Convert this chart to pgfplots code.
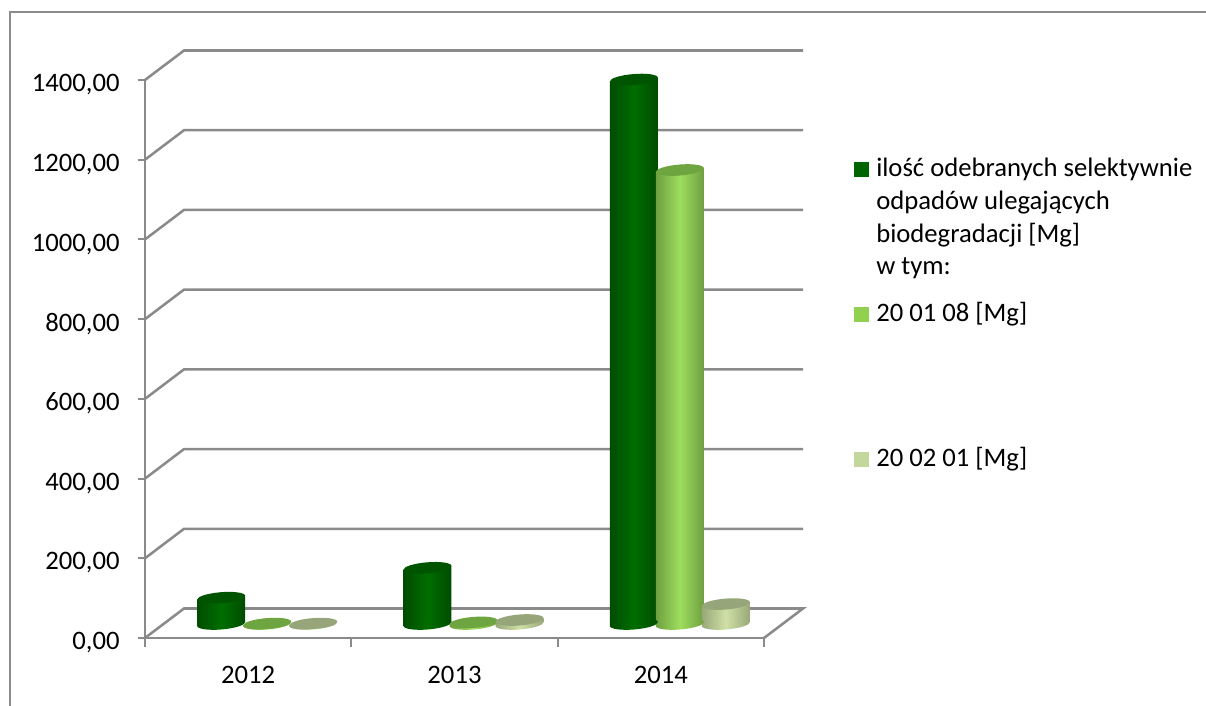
\documentclass[border=0pt]{standalone}
\usepackage{pgfplots}
\pgfplotsset{compat=1.18}
\usepackage{fontspec}
\setmainfont{Carlito}
\definecolor{gridc}{HTML}{8A8A8A}
\definecolor{frm}{HTML}{8C8C8C}
\definecolor{aE}{HTML}{004C00}\definecolor{aM}{HTML}{006E00}\definecolor{aT}{HTML}{005400}
\definecolor{bE}{HTML}{6F9F40}\definecolor{bM}{HTML}{9DDE5E}\definecolor{bT}{HTML}{6FA540}
\definecolor{cE}{HTML}{98A878}\definecolor{cM}{HTML}{CFE0A6}\definecolor{cT}{HTML}{97A67A}
\definecolor{lA}{HTML}{006400}\definecolor{lB}{HTML}{92D050}\definecolor{lC}{HTML}{C3D69B}
\pgfdeclarehorizontalshading{sha}{100bp}{color(0bp)=(aE); color(25bp)=(aE); color(50bp)=(aM); color(75bp)=(aE); color(100bp)=(aE)}
\pgfdeclarehorizontalshading{shb}{100bp}{color(0bp)=(bE); color(25bp)=(bE); color(50bp)=(bM); color(75bp)=(bE); color(100bp)=(bE)}
\pgfdeclarehorizontalshading{shc}{100bp}{color(0bp)=(cE); color(25bp)=(cE); color(50bp)=(cM); color(75bp)=(cE); color(100bp)=(cE)}
\pgfdeclareplotmark{ctop}{\pgfpathellipse{\pgfpointorigin}{\pgfpoint{18pt}{1.5pt}}{\pgfpoint{-0.4pt}{4.1pt}}\pgfusepath{fill}}
\pgfdeclareplotmark{ba}{\pgfpathellipse{\pgfpointorigin}{\pgfpoint{18pt}{1.5pt}}{\pgfpoint{-0.4pt}{4.1pt}}\pgfshadepath{sha}{0}\pgfusepath{discard}}
\pgfdeclareplotmark{bb}{\pgfpathellipse{\pgfpointorigin}{\pgfpoint{18pt}{1.5pt}}{\pgfpoint{-0.4pt}{4.1pt}}\pgfshadepath{shb}{0}\pgfusepath{discard}}
\pgfdeclareplotmark{bc}{\pgfpathellipse{\pgfpointorigin}{\pgfpoint{18pt}{1.5pt}}{\pgfpoint{-0.4pt}{4.1pt}}\pgfshadepath{shc}{0}\pgfusepath{discard}}
% \cyl{series}{x}{value}
\newcommand\cyl[3]{%
  \pgfmathsetmacro\xl{#2-0.1163}\pgfmathsetmacro\xr{#2+0.1163}%
  \pgfmathsetmacro\ybl{-5}\pgfmathsetmacro\ybr{5}%
  \pgfmathsetmacro\ytl{#3-5}\pgfmathsetmacro\ytr{#3+5}%
  \addplot[only marks,mark=b#1] coordinates {(#2,0)};
  \edef\body{\noexpand\addplot[draw=none,left color=#1E,right color=#1E,middle color=#1M] coordinates {(\xl,\ybl)(\xr,\ybr)(\xr,\ytr)(\xl,\ytl)} -- cycle;}\body
  \addplot[only marks,mark=ctop,mark options={fill=#1T,draw=none}] coordinates {(#2,#3)};
}
\begin{document}
\begin{tikzpicture}
\path[use as bounding box] (0,0) rectangle (904.5pt,529.5pt);
\begin{scope}[x=0.75pt,y=-0.75pt,yshift=529.5pt]
\draw[frm,line width=1.6pt] (10,706)--(10,12)--(1206,12);
\end{scope}
\begin{axis}[
  at={(108.75pt,51pt)},anchor=south west,
  scale only axis,width=464.25pt,height=418.5pt,
  xmin=0,xmax=3,ymin=0,ymax=1400,clip=false,
  axis x line*=bottom,axis y line*=left,
  axis line style={gridc,line width=1.9pt},
  tick align=outside,
  xtick={0.5,1.5,2.5},xticklabels={2012,2013,2014},
  minor xtick={0,1,2,3},minor tick length=6.75pt,
  major x tick style={draw=none},
  minor x tick style={gridc,line width=1.5pt},
  ytick={0,200,400,600,800,1000,1200,1400},
  major tick length=5.5pt,
  y tick style={gridc,line width=1.5pt},
  ticklabel style={font=\fontsize{20}{24}\selectfont,text=black},
  x tick label style={yshift=-12pt},
  y tick label style={xshift=-10pt,yshift=-3.5pt},
  /pgf/number format/.cd,fixed,fixed zerofill,precision=2,use comma,1000 sep={},assume math mode=true,
]
\addplot[gridc,line width=1.9pt] coordinates {(0,0)(0.189,74)(3.189,74)(3,0)};
\addplot[gridc,line width=1.9pt] coordinates {(0,200)(0.189,274)(3.189,274)};
\addplot[gridc,line width=1.9pt] coordinates {(0,400)(0.189,474)(3.189,474)};
\addplot[gridc,line width=1.9pt] coordinates {(0,600)(0.189,674)(3.189,674)};
\addplot[gridc,line width=1.9pt] coordinates {(0,800)(0.189,874)(3.189,874)};
\addplot[gridc,line width=1.9pt] coordinates {(0,1000)(0.189,1074)(3.189,1074)};
\addplot[gridc,line width=1.9pt] coordinates {(0,1200)(0.189,1274)(3.189,1274)};
\addplot[gridc,line width=1.9pt] coordinates {(0,1400)(0.189,1474)(3.189,1474)};
\end{axis}
\begin{axis}[
  at={(123pt,61.5pt)},anchor=south west,
  scale only axis,width=464.25pt,height=418.5pt,
  xmin=0,xmax=3,ymin=0,ymax=1400,clip=false,
  hide axis,
]
\cyl{a}{0.277}{66}
\cyl{b}{0.5}{1}
\cyl{c}{0.723}{1}
\cyl{a}{1.277}{141}
\cyl{b}{1.5}{4}
\cyl{c}{1.723}{10}
\cyl{a}{2.277}{1366}
\cyl{b}{2.5}{1139}
\cyl{c}{2.723}{50}
\end{axis}
\begin{scope}[x=0.75pt,y=-0.75pt,yshift=529.5pt,every node/.style={anchor=base west,inner sep=0pt,font=\fontsize{20}{24}\selectfont}]
\fill[lA] (854,162) rectangle (869,177);
\fill[lB] (854,307) rectangle (869,322);
\fill[lC] (854,452) rectangle (869,467);
\node at (876,177) {ilość odebranych selektywnie};
\node at (876,210) {odpadów ulegających};
\node at (876,243) {biodegradacji [Mg]};
\node at (876,275) {w tym:};
\node at (876,322) {20 01 08 [Mg]};
\node at (876,467) {20 02 01 [Mg]};
\end{scope}
\end{tikzpicture}
\end{document}
